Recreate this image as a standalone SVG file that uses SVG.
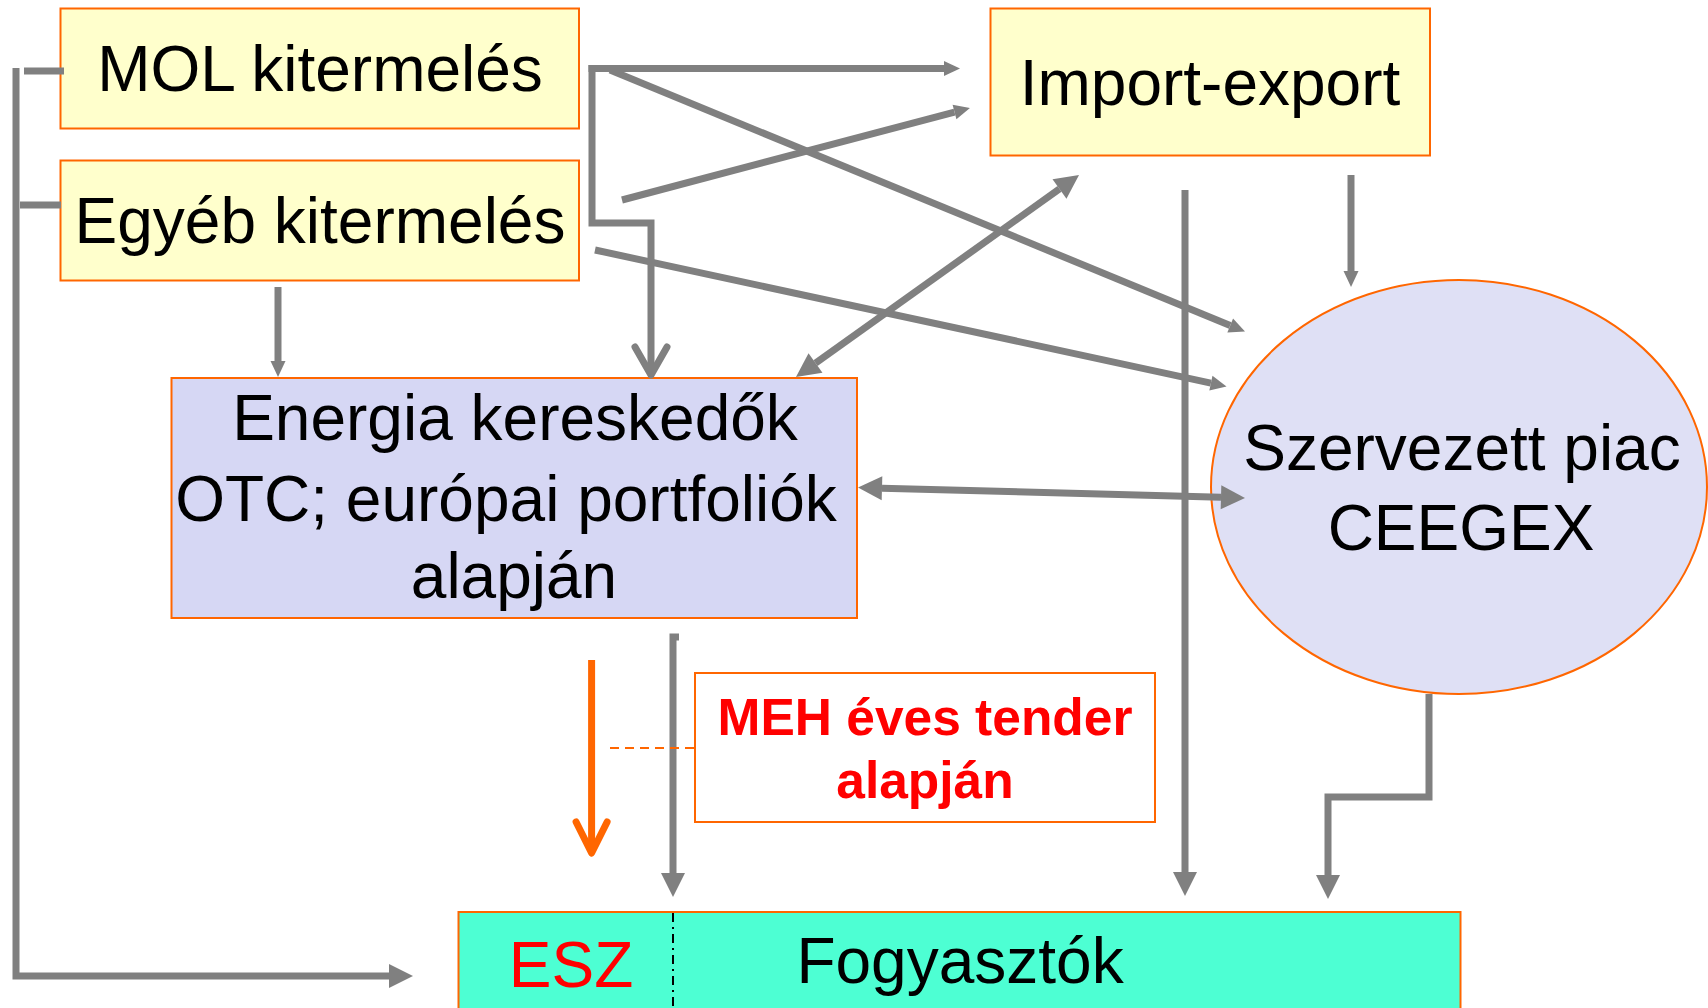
<svg xmlns="http://www.w3.org/2000/svg" width="1708" height="1008" viewBox="0 0 1708 1008">
<style>
  .box{stroke:#FF6600;stroke-width:2}
  .t{font-family:"Liberation Sans",Arial,sans-serif;font-size:64px;fill:#000;text-anchor:middle}
  .red{fill:#FF0000}
  .b{font-weight:bold;font-size:51.5px}
  .c{fill:none;stroke:#808080;stroke-width:7;stroke-linejoin:miter}
</style>
<defs>
  <marker id="sm" markerUnits="userSpaceOnUse" markerWidth="20" markerHeight="20" refX="0" refY="7.5" orient="auto-start-reverse" overflow="visible">
    <path d="M0,0 L16,7.5 L0,15 z" fill="#808080"/>
  </marker>
  <marker id="lg" markerUnits="userSpaceOnUse" markerWidth="30" markerHeight="30" refX="0" refY="12" orient="auto-start-reverse" overflow="visible">
    <path d="M0,0 L24,12 L0,24 z" fill="#808080"/>
  </marker>
  <marker id="vg" markerUnits="userSpaceOnUse" markerWidth="40" markerHeight="40" refX="0" refY="0" orient="auto" overflow="visible">
    <path d="M-26,-16 L2,0 L-26,16" fill="none" stroke="#808080" stroke-width="7" stroke-linecap="round" stroke-linejoin="round"/>
  </marker>
  <marker id="vo" markerUnits="userSpaceOnUse" markerWidth="40" markerHeight="40" refX="0" refY="0" orient="auto" overflow="visible">
    <path d="M-29,-15.5 L2,0 L-29,15.5" fill="none" stroke="#FF6600" stroke-width="7" stroke-linecap="round" stroke-linejoin="round"/>
  </marker>
</defs>
<rect width="1708" height="1008" fill="#FFFFFF"/>

<g id="mol">
  <rect class="box" x="60.5" y="8.5" width="518.5" height="120" fill="#FFFFCC"/>
  <text class="t" x="320" y="91">MOL kitermelés</text>
</g>
<g id="egyeb">
  <rect class="box" x="60.5" y="160.5" width="518.5" height="120" fill="#FFFFCC"/>
  <text class="t" x="320" y="243">Egyéb kitermelés</text>
</g>
<g id="import">
  <rect class="box" x="990.5" y="8.5" width="439.5" height="147" fill="#FFFFCC"/>
  <text class="t" x="1210" y="105">Import-export</text>
</g>
<g id="energia">
  <rect class="box" x="171.5" y="378" width="685.5" height="240" fill="#D6D7F4"/>
  <text class="t" x="515" y="440">Energia kereskedők</text>
  <text class="t" x="506" y="521">OTC; európai portfoliók</text>
  <text class="t" x="514" y="598">alapján</text>
</g>
<g id="szervezett">
  <ellipse class="box" cx="1459" cy="487" rx="248" ry="207" fill="#DFE0F5"/>
  <text class="t" x="1462" y="470">Szervezett piac</text>
  <text class="t" x="1461" y="550">CEEGEX</text>
</g>
<g id="meh">
  <rect class="box" x="695" y="673" width="460" height="149" fill="#FFFFFF"/>
  <text class="t red b" x="925" y="735">MEH éves tender</text>
  <text class="t red b" x="925" y="798">alapján</text>
</g>
<g id="fogyasztok">
  <rect class="box" x="458.5" y="912" width="1002" height="110" fill="#4DFFD3"/>
  <line x1="673" y1="913" x2="673" y2="1008" stroke="#000" stroke-width="2" stroke-dasharray="9 5 2 5"/>
  <text class="t red" x="571" y="987">ESZ</text>
  <text class="t" x="960" y="983">Fogyasztók</text>
</g>

<g id="connectors">
  <path class="c" d="M64,71 H24"/>
  <path class="c" d="M61,205 H20"/>
  <path class="c" d="M16,68 V976 H389" marker-end="url(#lg)"/>
  <path class="c" d="M588.5,68.5 H944" marker-end="url(#sm)"/>
  <path class="c" d="M592,65 V223 H651 V373" marker-end="url(#vg)"/>
  <path class="c" d="M610,70 L1230.2,325.5" marker-end="url(#sm)"/>
  <path class="c" d="M622,200 L954.5,112.1" marker-end="url(#sm)"/>
  <path class="c" d="M595,250 L1210.9,383.1" marker-end="url(#sm)"/>
  <path class="c" d="M278,287 V361" marker-end="url(#sm)"/>
  <path class="c" d="M815.5,363.1 L1059.5,188.9" marker-start="url(#lg)" marker-end="url(#lg)"/>
  <path class="c" d="M1351,175 V271" marker-end="url(#sm)"/>
  <path class="c" d="M1185,190 V872" marker-end="url(#lg)"/>
  <path class="c" d="M882,488.2 L1221,497.3" marker-start="url(#lg)" marker-end="url(#lg)"/>
  <path class="c" d="M1429,694 V797 H1328 V875" marker-end="url(#lg)"/>
  <path class="c" d="M679,637 H673 V873" marker-end="url(#lg)"/>
  <path d="M591.6,660 V851" fill="none" stroke="#FF6600" stroke-width="7" marker-end="url(#vo)"/>
  <path d="M610,748 H695" fill="none" stroke="#FF6600" stroke-width="2" stroke-dasharray="9 6"/>
</g>
</svg>
